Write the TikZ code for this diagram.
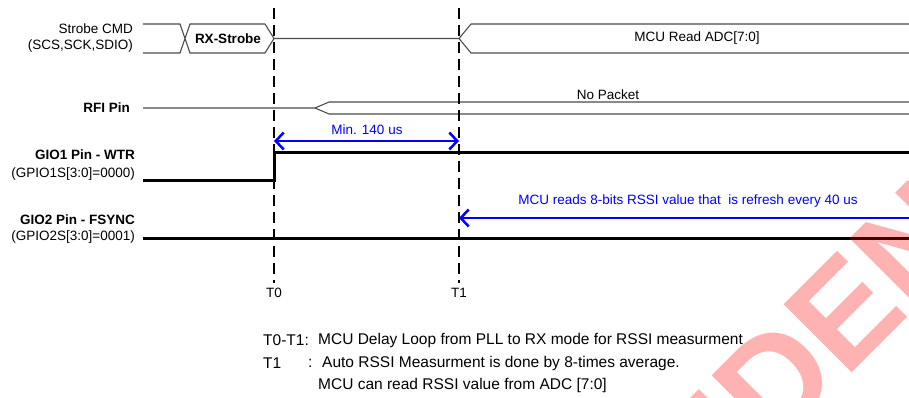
\documentclass[tikz,border=0pt]{standalone}
\usepackage{fontspec}
\setmainfont{Liberation Sans}
\usetikzlibrary{positioning}
\usetikzlibrary{calc}
\usetikzlibrary{arrows.meta}

\tikzset{
  txt/.style={font=\fontsize{13.5}{15}\selectfont, inner sep=0pt},
  note/.style={font=\fontsize{15.5}{18}\selectfont, inner sep=0pt, anchor=west},
  lbl/.style={txt, anchor=east},
  boldlbl/.style={lbl, font=\fontsize{13.5}{15}\bfseries\selectfont},
  bus/.style={line width=1.1pt, black!70},
  sig/.style={line width=3pt, black},
  marker/.style={line width=2.5pt, black, dash pattern=on 11pt off 6pt},
  timing/.style={line width=2.5pt, blue},
  barb/.tip={Straight Barb[length=8pt, width=17pt]},
}

\begin{document}
\begin{tikzpicture}[x=1pt, y=-1pt]
    \useasboundingbox (0,0) rectangle (909,397);

    % time marks
    \coordinate (t0top) at (274,8);
    \coordinate (t0bot) at (274,283);
    \coordinate (t1top) at (459,8);
    \coordinate (t1bot) at (459,283);

    % Strobe CMD bus
    \node[lbl] (strobe) at (133,29) {Strobe CMD};
    \node[lbl] (strobeio) at (133,46) {(SCS,SCK,SDIO)};
    \coordinate (bus0) at (143,38.5);
    \coordinate (rxr) at (274,38.5);
    \draw[bus] (bus0 |- 0,24) -- (180,24) -- (190,53) -- (265,53) -- (rxr)
        -- (265,24) -- (190,24) -- (180,53) -- (bus0 |- 0,53);
    \node[txt, font=\fontsize{13.5}{15}\bfseries\selectfont] (rxstrobe) at (228,38.5) {RX-Strobe};
    \coordinate (rdl) at (459,38.5);
    \draw[bus] (rxr) -- (rdl) -- (471,24) -- (909,24);
    \draw[bus] (rdl) -- (471,53) -- (909,53);
    \node[txt] (adc) at (697,38.5) {MCU Read ADC[7:0]};

    % RFI pin
    \node[boldlbl] (rfi) at (130,108) {RFI Pin};
    \coordinate (rfi0) at (143,108);
    \coordinate (rfi1) at (315,108);
    \draw[bus] (rfi0) -- (rfi1) -- (329,102) -- (909,102);
    \draw[bus] (rfi1) -- (329,114) -- (909,114);
    \node[txt] (nopkt) at (608,95) {No Packet};

    % GIO1
    \node[boldlbl] (gio1) at (135,155) {GIO1 Pin - WTR};
    \node[lbl] (gio1s) at (135,174) {(GPIO1S[3:0]=0000)};
    \coordinate (g1a) at (143,180);
    \coordinate (g1b) at (274,180);
    \draw[sig] (g1a) -- (g1b) -- (274,152) -- (909,152);

    % GIO2
    \node[boldlbl] (gio2) at (135,220) {GIO2 Pin - FSYNC};
    \node[lbl] (gio2s) at (135,237) {(GPIO2S[3:0]=0001)};
    \coordinate (g2a) at (143,238);
    \coordinate (g2b) at (909,238);
    \draw[sig] (g2a) -- (g2b);

    % markers
    \draw[marker] (t0top) -- (t0bot);
    \draw[marker] (t1top) -- (t1bot);
    \node[txt, below=5pt of t0bot] (t0) {T0};
    \node[txt, below=5pt of t1bot] (t1) {T1};

    % timing arrows
    \coordinate (minl) at (274,141);
    \coordinate (minr) at (459,141);
    \draw[timing, barb-barb] (minl) -- (minr);
    \node[txt, text=blue] (mintxt) at (367,130) {Min. 140 us};
    \coordinate (rssir) at (909,218);
    \coordinate (rssil) at (459,218);
    \draw[timing, -barb] (rssir) -- (rssil);
    \node[txt, text=blue] (rssitxt) at (688,201) {MCU reads 8-bits RSSI value that\ \ is refresh every 40 us};

    % notes
    \node[note] (noteA) at (263,340) {T0-T1:};
    \node[note] (noteAt) at (318,340) {MCU Delay Loop from PLL to RX mode for RSSI measurment};
    \node[note] (noteB) at (263,363) {T1};
    \node[note] (noteBc) at (308,363) {:};
    \node[note] (noteBt) at (322,363) {Auto RSSI Measurment is done by 8-times average.};
    \node[note] (noteC) at (318,385) {MCU can read RSSI value from ADC [7:0]};

    % watermark
    \begin{scope}
        \clip (0,0) rectangle (909,397);
        \node[rotate=45, text=red, text opacity=0.3, inner sep=0pt,
            font=\fontsize{140}{140}\bfseries\selectfont] (wmark) at (800,356) {CONFIDENTIAL};
    \end{scope}
\end{tikzpicture}
\end{document}
